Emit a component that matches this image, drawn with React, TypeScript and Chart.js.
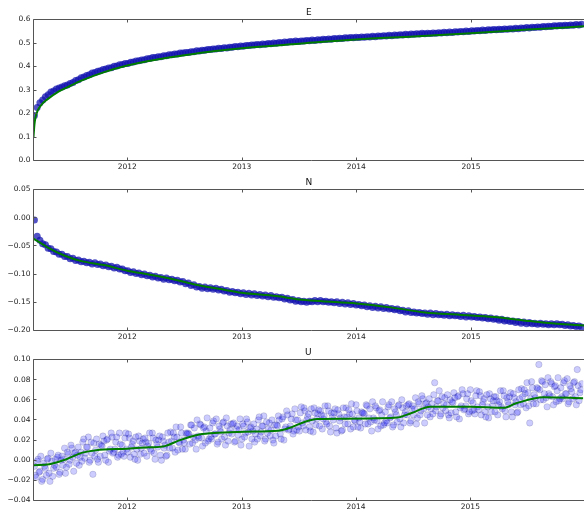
import React, { useEffect, useRef } from "react";
import { Chart, registerables } from "chart.js";

Chart.register(...registerables);

// ---------- axis ranges and ticks ----------
const X_MIN = 2011.182;
const X_MAX = 2015.987;
const SAMPLE_START = 2011.19;
const SAMPLE_END = 2015.966;
const YEAR_TICKS = [2012, 2013, 2014, 2015];

const PANEL_TITLES = ["E", "N", "U"];
const E_RANGE = [0, 0.6];
const N_RANGE = [-0.2, 0.05];
const U_RANGE = [-0.04, 0.1];
const E_TICKS = [0, 0.1, 0.2, 0.3, 0.4, 0.5, 0.6];
const N_TICKS = [-0.2, -0.15, -0.1, -0.05, 0, 0.05];
const U_TICKS = [-0.04, -0.02, 0, 0.02, 0.04, 0.06, 0.08, 0.1];
const E_DECIMALS = 1;
const N_DECIMALS = 2;
const U_DECIMALS = 2;

// ---------- observed positions (m) ----------
const E_VALUES = [
  0.192, 0.226, 0.246, 0.257, 0.271, 0.28, 0.291, 0.296, 0.304, 0.308,
  0.313, 0.318, 0.321, 0.328, 0.332, 0.34, 0.344, 0.352, 0.355, 0.362,
  0.365, 0.372, 0.374, 0.38, 0.382, 0.387, 0.389, 0.394, 0.395, 0.401,
  0.402, 0.407, 0.408, 0.413, 0.413, 0.418, 0.419, 0.423, 0.424, 0.428,
  0.429, 0.433, 0.434, 0.438, 0.438, 0.442, 0.442, 0.446, 0.446, 0.45,
  0.45, 0.453, 0.453, 0.457, 0.457, 0.46, 0.46, 0.463, 0.463, 0.467,
  0.466, 0.469, 0.469, 0.472, 0.472, 0.475, 0.474, 0.478, 0.477, 0.48,
  0.479, 0.482, 0.482, 0.485, 0.484, 0.487, 0.486, 0.489, 0.489, 0.492,
  0.491, 0.494, 0.493, 0.496, 0.495, 0.498, 0.497, 0.5, 0.499, 0.502,
  0.501, 0.504, 0.503, 0.506, 0.505, 0.508, 0.506, 0.509, 0.508, 0.511,
  0.51, 0.513, 0.511, 0.514, 0.513, 0.516, 0.515, 0.517, 0.516, 0.519,
  0.518, 0.52, 0.519, 0.522, 0.521, 0.523, 0.522, 0.525, 0.523, 0.526,
  0.525, 0.527, 0.526, 0.529, 0.527, 0.53, 0.529, 0.531, 0.53, 0.533,
  0.531, 0.534, 0.533, 0.535, 0.534, 0.537, 0.535, 0.538, 0.537, 0.539,
  0.538, 0.541, 0.539, 0.542, 0.54, 0.543, 0.542, 0.544, 0.543, 0.546,
  0.544, 0.547, 0.545, 0.548, 0.547, 0.549, 0.548, 0.551, 0.549, 0.552,
  0.551, 0.553, 0.552, 0.555, 0.553, 0.556, 0.555, 0.557, 0.556, 0.559,
  0.557, 0.56, 0.559, 0.561, 0.56, 0.563, 0.561, 0.564, 0.563, 0.566,
  0.564, 0.567, 0.566, 0.568, 0.567, 0.57, 0.569, 0.571, 0.57, 0.573,
  0.572, 0.574, 0.573, 0.576, 0.575, 0.577, 0.576, 0.579, 0.577, 0.58,
];

const N_VALUES = [
  -0.004, -0.033, -0.04, -0.046, -0.048, -0.054, -0.055, -0.06, -0.061, -0.065,
  -0.065, -0.069, -0.069, -0.073, -0.072, -0.076, -0.075, -0.078, -0.077, -0.08,
  -0.079, -0.082, -0.08, -0.083, -0.082, -0.085, -0.084, -0.087, -0.086, -0.089,
  -0.088, -0.091, -0.091, -0.094, -0.094, -0.097, -0.096, -0.099, -0.098, -0.101,
  -0.1, -0.103, -0.102, -0.105, -0.104, -0.107, -0.106, -0.109, -0.107, -0.11,
  -0.109, -0.112, -0.111, -0.114, -0.113, -0.117, -0.116, -0.12, -0.119, -0.123,
  -0.122, -0.125, -0.123, -0.126, -0.124, -0.127, -0.125, -0.128, -0.127, -0.13,
  -0.129, -0.132, -0.131, -0.133, -0.132, -0.135, -0.133, -0.136, -0.134, -0.137,
  -0.135, -0.138, -0.136, -0.139, -0.137, -0.14, -0.138, -0.141, -0.14, -0.142,
  -0.141, -0.144, -0.143, -0.146, -0.145, -0.148, -0.147, -0.149, -0.148, -0.15,
  -0.148, -0.149, -0.147, -0.149, -0.147, -0.149, -0.148, -0.15, -0.149, -0.151,
  -0.149, -0.152, -0.15, -0.153, -0.151, -0.154, -0.152, -0.155, -0.154, -0.156,
  -0.155, -0.158, -0.156, -0.159, -0.157, -0.16, -0.158, -0.161, -0.159, -0.162,
  -0.161, -0.163, -0.162, -0.165, -0.164, -0.167, -0.165, -0.168, -0.167, -0.169,
  -0.168, -0.17, -0.169, -0.171, -0.169, -0.172, -0.17, -0.172, -0.171, -0.173,
  -0.171, -0.174, -0.172, -0.174, -0.173, -0.175, -0.173, -0.176, -0.174, -0.176,
  -0.175, -0.177, -0.176, -0.178, -0.177, -0.179, -0.178, -0.18, -0.179, -0.182,
  -0.18, -0.183, -0.182, -0.184, -0.183, -0.186, -0.184, -0.187, -0.185, -0.188,
  -0.186, -0.188, -0.187, -0.189, -0.187, -0.189, -0.188, -0.19, -0.188, -0.19,
  -0.188, -0.19, -0.189, -0.191, -0.19, -0.192, -0.191, -0.193, -0.192, -0.194,
];

// U observations in millimetres (two interleaved sets of epochs)
const U_VALUES_MM_A = [
  -6, -17, 1, -11, -21, -3, -8, 1, -13, 7, -16, -5,
  -7, 5, -12, 4, 1, -13, 8, -4, 15, 3, 7, -3,
  13, 3, -1, 21, 7, 13, -2, 18, -14, 4, 21, -2,
  4, 14, 19, 0, 21, 9, 27, 7, 11, 23, 5, 16,
  15, 4, 27, 8, 22, 13, 19, 1, 11, 24, 6, 17,
  7, 18, 14, 27, 9, 22, 1, 16, 20, 5, 23, 12,
  4, 27, 12, 19, 27, 8, 23, 18, 33, 11, 17, 27,
  27, 16, 35, 23, 20, 40, 22, 35, 14, 33, 29, 19,
  32, 21, 39, 26, 16, 34, 28, 37, 23, 42, 19, 30,
  26, 37, 19, 34, 30, 15, 36, 23, 41, 28, 32, 21,
  36, 26, 21, 43, 28, 34, 19, 38, 31, 24, 40, 17,
  24, 34, 40, 21, 43, 31, 49, 30, 34, 46, 29, 40,
  40, 29, 53, 34, 49, 40, 46, 29, 39, 52, 35, 46,
  34, 45, 41, 54, 36, 49, 28, 43, 47, 32, 50, 39,
  29, 52, 36, 43, 50, 31, 46, 40, 55, 33, 38, 48,
  47, 36, 54, 42, 38, 58, 40, 52, 31, 50, 45, 35,
  48, 37, 55, 43, 33, 51, 45, 54, 41, 60, 37, 48,
  45, 56, 39, 54, 51, 36, 58, 45, 64, 51, 56, 45,
  61, 51, 46, 77, 53, 59, 44, 63, 56, 49, 65, 42,
  47, 57, 62, 43, 64, 52, 70, 50, 54, 66, 48, 59,
  57, 46, 69, 50, 64, 55, 61, 43, 53, 66, 48, 59,
  48, 59, 55, 69, 51, 64, 43, 58, 63, 48, 66, 55,
  47, 70, 55, 63, 70, 52, 67, 37, 78, 56, 62, 72,
  95, 60, 78, 66, 62, 82, 64, 76, 55, 74, 69, 59,
  72, 61, 79, 66, 56, 74, 68, 77, 63, 90, 59, 70,
];
const U_VALUES_MM_B = [
  -15, -1, -12, 4, -19, -6, -15, 2, -21, -1, -8, 1,
  3, -14, 0, -5, 12, -7, 6, 0, 12, -11, 8, 5,
  -5, 8, 18, 2, 13, 23, 0, 7, 17, 10, 1, 16,
  15, 24, 5, 20, -2, 11, 23, 8, 18, 3, 27, 6,
  8, 22, 11, 26, 3, 16, 6, 23, 0, 19, 12, 21,
  22, 4, 17, 11, 27, 7, 20, 13, 24, 0, 19, 15,
  5, 18, 28, 12, 23, 33, 10, 17, 27, 20, 11, 26,
  26, 35, 17, 32, 11, 24, 36, 22, 32, 17, 42, 21,
  23, 37, 26, 41, 18, 31, 21, 38, 15, 34, 27, 36,
  36, 18, 31, 25, 41, 21, 34, 27, 38, 14, 33, 29,
  18, 31, 40, 24, 34, 44, 21, 27, 37, 30, 20, 35,
  35, 44, 26, 41, 20, 33, 45, 31, 41, 26, 51, 30,
  33, 47, 37, 52, 30, 43, 33, 51, 28, 47, 41, 50,
  49, 31, 44, 38, 54, 34, 47, 40, 51, 27, 46, 42,
  30, 43, 52, 36, 46, 56, 33, 39, 49, 42, 32, 47,
  46, 55, 36, 51, 29, 42, 54, 39, 49, 34, 58, 37,
  39, 53, 42, 58, 35, 48, 38, 55, 33, 52, 45, 54,
  55, 37, 51, 45, 62, 42, 56, 49, 61, 37, 57, 53,
  43, 56, 65, 49, 59, 69, 46, 52, 62, 55, 45, 60,
  58, 67, 48, 63, 41, 54, 66, 51, 61, 46, 70, 49,
  50, 64, 53, 68, 45, 58, 48, 65, 42, 61, 54, 63,
  63, 45, 58, 53, 69, 49, 62, 55, 67, 43, 62, 58,
  48, 61, 71, 56, 66, 77, 54, 61, 72, 65, 56, 71,
  70, 79, 60, 75, 53, 66, 78, 63, 73, 58, 82, 61,
  63, 77, 66, 81, 58, 71, 61, 78, 55, 74, 67, 76,
];

// ---------- fitted model (green) ----------
const E_MODEL_T = [2011.182, 2011.19, 2011.2, 2011.22, 2011.26, 2011.3, 2011.4, 2011.5, 2011.6, 2011.8, 2012.0, 2012.25, 2012.5, 2012.75, 2013.0, 2013.5, 2014.0, 2014.5, 2015.0, 2015.5, 2015.987];
const E_MODEL_V = [0.1, 0.152, 0.185, 0.214, 0.242, 0.259, 0.293, 0.317, 0.34, 0.376, 0.404, 0.429, 0.448, 0.465, 0.478, 0.497, 0.515, 0.528, 0.542, 0.557, 0.571];

const N_MODEL_T = [2011.182, 2011.3, 2011.45, 2011.6, 2011.8, 2012.0, 2012.2, 2012.4, 2012.6, 2012.8, 2013.0, 2013.3, 2013.5, 2013.7, 2014.0, 2014.3, 2014.6, 2014.9, 2015.2, 2015.5, 2015.75, 2015.987];
const N_MODEL_V = [-0.037, -0.052, -0.067, -0.077, -0.084, -0.094, -0.101, -0.109, -0.119, -0.126, -0.133, -0.139, -0.145, -0.148, -0.152, -0.159, -0.168, -0.172, -0.176, -0.183, -0.188, -0.191];

const U_MODEL_T = [2011.182, 2011.32, 2011.47, 2011.61, 2011.73, 2012.0, 2012.19, 2012.33, 2012.45, 2012.63, 2012.8, 2013.03, 2013.32, 2013.41, 2013.55, 2013.66, 2013.9, 2014.19, 2014.36, 2014.48, 2014.65, 2015.0, 2015.29, 2015.4, 2015.64, 2015.987];
const U_MODEL_V = [-0.005, -0.004, 0.001, 0.0075, 0.01, 0.0114, 0.0128, 0.014, 0.0195, 0.0255, 0.0273, 0.0283, 0.0293, 0.0317, 0.038, 0.0409, 0.0412, 0.0416, 0.0423, 0.0466, 0.053, 0.053, 0.052, 0.0565, 0.0625, 0.0615];

// ---------- helpers ----------
function sampleEpochs(n: number, shift: number): number[] {
  const step = (SAMPLE_END - SAMPLE_START) / (n - 1);
  const out: number[] = [];
  for (let i = 0; i < n; i++) out.push(SAMPLE_START + (i + shift) * step);
  return out;
}
function pairs(ts: number[], vs: number[]) {
  return vs.map((v, i) => ({ x: ts[i], y: v }));
}
function fmt(v: number, d: number) {
  const s = Math.abs(v).toFixed(d);
  return v < -1e-9 ? "\u2212" + s : s;
}

const FONT = '"DejaVu Sans", "Liberation Sans", sans-serif';

const framePlugin = {
  id: "mplFrame",
  afterDatasetsDraw(chart: any, _args: any, opts: any) {
    const { ctx, chartArea: a, scales } = chart;
    const x = scales.x;
    const y = scales.y;
    ctx.save();
    ctx.strokeStyle = "#555";
    ctx.lineWidth = 1;
    ctx.beginPath();
    ctx.moveTo(a.left, a.top);
    ctx.lineTo(a.right + 10, a.top);
    ctx.moveTo(a.left, a.top);
    ctx.lineTo(a.left, a.bottom);
    ctx.lineTo(a.right + 10, a.bottom);
    for (const t of x.ticks) {
      const px = Math.round(x.getPixelForValue(t.value)) + 0.5;
      ctx.moveTo(px, a.bottom);
      ctx.lineTo(px, a.bottom - 3);
      ctx.moveTo(px, a.top);
      ctx.lineTo(px, a.top + 3);
    }
    for (const t of y.ticks) {
      const py = Math.round(y.getPixelForValue(t.value) - 0.5) + 0.5;
      ctx.moveTo(a.left, py);
      ctx.lineTo(a.left + 3, py);
    }
    ctx.stroke();
    ctx.fillStyle = "#111";
    ctx.font = "9px " + FONT;
    ctx.textAlign = "center";
    ctx.textBaseline = "middle";
    ctx.fillText(opts.title, (a.left + a.right) / 2, a.top - 6.5);
    ctx.restore();
  },
};

type PanelSpec = {
  title: string;
  series: number[][];
  modelT: number[];
  modelV: number[];
  range: number[];
  ticks: number[];
  decimals: number;
  fill: string;
  edge: string;
  edgeWidth: number;
  radius: number;
};

function Panel({ spec, top, height }: { spec: PanelSpec; top: number; height: number }) {
  const ref = useRef<HTMLCanvasElement | null>(null);
  useEffect(() => {
    const canvas = ref.current;
    if (!canvas) return;
    const scatterSets = spec.series.map((vals, k) => ({
      data: pairs(sampleEpochs(vals.length, k / spec.series.length), vals),
      backgroundColor: spec.fill,
      borderColor: spec.edge,
      borderWidth: spec.edgeWidth,
      pointRadius: spec.radius,
      order: 1,
    }));
    const chart = new Chart(canvas, {
      type: "scatter",
      data: {
        datasets: [
          {
            type: "line",
            data: pairs(spec.modelT, spec.modelV),
            borderColor: "#007d00",
            borderWidth: 2,
            pointRadius: 0,
            showLine: true,
            cubicInterpolationMode: "monotone",
            fill: false,
            order: 0,
          } as any,
          ...scatterSets,
        ],
      },
      options: {
        responsive: false,
        animation: false,
        events: [],
        devicePixelRatio: 1,
        layout: { padding: { top: 19.5, right: 1, left: 0, bottom: 0 } },
        plugins: {
          legend: { display: false },
          tooltip: { enabled: false },
          mplFrame: { title: spec.title },
        } as any,
        scales: {
          x: {
            type: "linear",
            min: X_MIN,
            max: X_MAX,
            grid: { display: false, drawTicks: false },
            border: { display: false },
            afterBuildTicks: (s: any) => {
              s.ticks = YEAR_TICKS.map((v) => ({ value: v }));
            },
            afterFit: (s: any) => {
              s.height = height - 160.5;
            },
            ticks: {
              padding: 2,
              maxRotation: 0,
              autoSkip: false,
              color: "#222",
              font: { family: FONT, size: 7.5 },
              callback: (v: any) => String(v),
            },
          },
          y: {
            type: "linear",
            min: spec.range[0],
            max: spec.range[1],
            grid: { display: false, drawTicks: false },
            border: { display: false },
            afterBuildTicks: (s: any) => {
              s.ticks = spec.ticks.map((v) => ({ value: v }));
            },
            afterFit: (s: any) => {
              s.width = 33.5;
            },
            ticks: {
              padding: 3,
              autoSkip: false,
              color: "#222",
              font: { family: FONT, size: 7.5 },
              callback: (v: any) => fmt(Number(v), spec.decimals),
            },
          },
        },
      },
      plugins: [framePlugin],
    } as any);
    return () => chart.destroy();
  }, [spec, height]);
  return (
    <canvas
      ref={ref}
      width={588}
      height={height}
      style={{ position: "absolute", left: 0, top, width: 588, height }}
    />
  );
}

const DENSE_FILL = "rgba(15,15,175,0.72)";
const SPARSE_FILL = "rgba(0,0,255,0.2)";
const SPARSE_EDGE = "rgba(0,0,60,0.2)";

const SPECS: PanelSpec[] = [
  { title: PANEL_TITLES[0], series: [E_VALUES], modelT: E_MODEL_T, modelV: E_MODEL_V, range: E_RANGE, ticks: E_TICKS, decimals: E_DECIMALS, fill: DENSE_FILL, edge: DENSE_FILL, edgeWidth: 0, radius: 3.5 },
  { title: PANEL_TITLES[1], series: [N_VALUES], modelT: N_MODEL_T, modelV: N_MODEL_V, range: N_RANGE, ticks: N_TICKS, decimals: N_DECIMALS, fill: DENSE_FILL, edge: DENSE_FILL, edgeWidth: 0, radius: 3.5 },
  {
    title: PANEL_TITLES[2],
    series: [U_VALUES_MM_A.map((v) => v / 1000), U_VALUES_MM_B.map((v) => v / 1000)],
    modelT: U_MODEL_T,
    modelV: U_MODEL_V,
    range: U_RANGE,
    ticks: U_TICKS,
    decimals: U_DECIMALS,
    fill: SPARSE_FILL,
    edge: SPARSE_EDGE,
    edgeWidth: 0.7,
    radius: 3.2,
  },
];

export default function App() {
  return (
    <div
      style={{
        position: "fixed",
        left: 0,
        top: 0,
        width: 584,
        height: 514,
        overflow: "hidden",
        background: "#fff",
      }}
    >
      <Panel spec={SPECS[0]} top={0} height={180} />
      <Panel spec={SPECS[1]} top={170} height={180} />
      <Panel spec={SPECS[2]} top={340} height={174} />
    </div>
  );
}
